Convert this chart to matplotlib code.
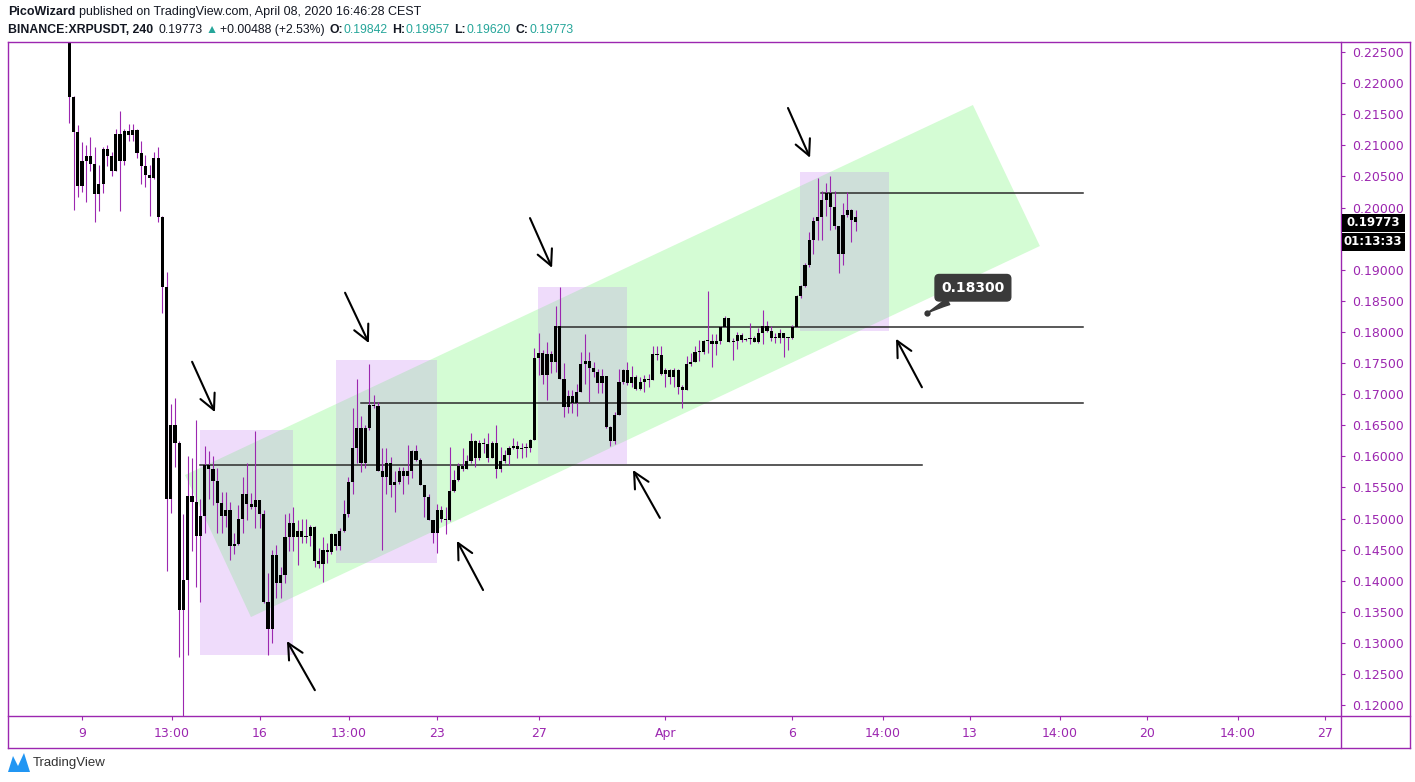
import matplotlib
matplotlib.use('Agg')
import matplotlib.pyplot as plt
from matplotlib.lines import Line2D
from matplotlib.patches import Polygon, Rectangle
import numpy as np

W, H = 1415, 782

# 4h candles, BINANCE:XRPUSDT, first one opens 8 Mar 2020 12:00 (x = day of March)
FIRST_CANDLE = 8.5
STEP = 1 / 6

opens = [
    0.2300, 0.2178, 0.2122, 0.2035, 0.2075, 0.2083, 0.2070, 0.2021, 0.2038, 0.2094,
    0.2083, 0.2059, 0.2118, 0.2075, 0.2123, 0.2116, 0.2125, 0.2087, 0.2066, 0.2053,
    0.2048, 0.2080, 0.1985, 0.1873, 0.1532, 0.1651, 0.1621, 0.1353, 0.1401, 0.1536,
    0.1527, 0.1472, 0.1504, 0.1586, 0.1580, 0.1561, 0.1525, 0.1504, 0.1514, 0.1456,
    0.1459, 0.1499, 0.1539, 0.1524, 0.1519, 0.1530, 0.1508, 0.1365, 0.1322, 0.1441,
    0.1396, 0.1409, 0.1470, 0.1492, 0.1470, 0.1480, 0.1470, 0.1472, 0.1487, 0.1432,
    0.1427, 0.1449, 0.1446, 0.1475, 0.1456, 0.1480, 0.1507, 0.1558, 0.1614, 0.1645,
    0.1590, 0.1645, 0.1683, 0.1681, 0.1577, 0.1567, 0.1589, 0.1554, 0.1559, 0.1576,
    0.1568, 0.1577, 0.1609, 0.1594, 0.1554, 0.1534, 0.1497, 0.1476, 0.1513, 0.1500,
    0.1498, 0.1545, 0.1562, 0.1584, 0.1579, 0.1592, 0.1624, 0.1597, 0.1621, 0.1619,
    0.1598, 0.1621, 0.1579, 0.1592, 0.1602, 0.1614, 0.1616, 0.1611, 0.1614, 0.1613,
    0.1627, 0.1758, 0.1766, 0.1731, 0.1764, 0.1751, 0.1809, 0.1725, 0.1680, 0.1697,
    0.1685, 0.1703, 0.1749, 0.1753, 0.1742, 0.1735, 0.1718, 0.1729, 0.1647, 0.1625,
    0.1666, 0.1719, 0.1738, 0.1718, 0.1727, 0.1708, 0.1720, 0.1724, 0.1723, 0.1764,
    0.1763, 0.1732, 0.1738, 0.1727, 0.1738, 0.1711, 0.1706, 0.1748, 0.1752, 0.1767,
    0.1768, 0.1785, 0.1785, 0.1780, 0.1785, 0.1808, 0.1822, 0.1784, 0.1786, 0.1795,
    0.1787, 0.1789, 0.1790, 0.1784, 0.1799, 0.1810, 0.1802, 0.1790, 0.1791, 0.1799,
    0.1791, 0.1790, 0.1808, 0.1857, 0.1874, 0.1908, 0.1948, 0.1978, 0.1985, 0.2012,
    0.2023, 0.2001, 0.1970, 0.1925, 0.1988, 0.1996, 0.1984,
]
highs = [
    0.2310, 0.2180, 0.2133, 0.2106, 0.2100, 0.2113, 0.2097, 0.2068, 0.2098, 0.2100,
    0.2089, 0.2126, 0.2155, 0.2126, 0.2135, 0.2135, 0.2127, 0.2107, 0.2084, 0.2068,
    0.2089, 0.2097, 0.1986, 0.1897, 0.1684, 0.1693, 0.1625, 0.1507, 0.1600, 0.1597,
    0.1659, 0.1532, 0.1617, 0.1609, 0.1600, 0.1581, 0.1542, 0.1542, 0.1527, 0.1477,
    0.1522, 0.1567, 0.1589, 0.1541, 0.1641, 0.1530, 0.1514, 0.1413, 0.1449, 0.1457,
    0.1422, 0.1508, 0.1509, 0.1519, 0.1498, 0.1500, 0.1500, 0.1489, 0.1488, 0.1452,
    0.1471, 0.1460, 0.1476, 0.1475, 0.1484, 0.1529, 0.1567, 0.1677, 0.1724, 0.1665,
    0.1651, 0.1748, 0.1698, 0.1688, 0.1613, 0.1613, 0.1599, 0.1576, 0.1583, 0.1583,
    0.1618, 0.1610, 0.1618, 0.1597, 0.1554, 0.1540, 0.1497, 0.1524, 0.1520, 0.1519,
    0.1615, 0.1578, 0.1589, 0.1613, 0.1602, 0.1637, 0.1626, 0.1626, 0.1630, 0.1637,
    0.1624, 0.1650, 0.1615, 0.1610, 0.1616, 0.1629, 0.1624, 0.1621, 0.1621, 0.1628,
    0.1774, 0.1799, 0.1771, 0.1784, 0.1770, 0.1842, 0.1872, 0.1750, 0.1706, 0.1706,
    0.1716, 0.1768, 0.1797, 0.1767, 0.1751, 0.1740, 0.1740, 0.1729, 0.1648, 0.1672,
    0.1740, 0.1740, 0.1752, 0.1745, 0.1731, 0.1728, 0.1731, 0.1733, 0.1777, 0.1777,
    0.1777, 0.1742, 0.1740, 0.1742, 0.1740, 0.1715, 0.1761, 0.1766, 0.1777, 0.1787,
    0.1787, 0.1865, 0.1797, 0.1796, 0.1809, 0.1825, 0.1822, 0.1791, 0.1800, 0.1798,
    0.1791, 0.1815, 0.1793, 0.1806, 0.1835, 0.1817, 0.1809, 0.1799, 0.1804, 0.1799,
    0.1792, 0.1811, 0.1860, 0.1876, 0.1911, 0.1961, 0.1985, 0.2047, 0.2026, 0.2040,
    0.2051, 0.2026, 0.1970, 0.2008, 0.2025, 0.1998, 0.1996,
]
lows = [
    0.2136, 0.1996, 0.2017, 0.2025, 0.2009, 0.2059, 0.1976, 0.1995, 0.2024, 0.2066,
    0.2050, 0.2058, 0.1995, 0.2068, 0.2107, 0.2107, 0.2079, 0.2038, 0.2033, 0.1987,
    0.2046, 0.1977, 0.1831, 0.1416, 0.1509, 0.1583, 0.1278, 0.1140, 0.1281, 0.1448,
    0.1390, 0.1365, 0.1477, 0.1532, 0.1522, 0.1477, 0.1477, 0.1487, 0.1433, 0.1443,
    0.1458, 0.1477, 0.1498, 0.1516, 0.1484, 0.1484, 0.1364, 0.1280, 0.1300, 0.1372,
    0.1372, 0.1396, 0.1448, 0.1447, 0.1425, 0.1460, 0.1461, 0.1456, 0.1422, 0.1420,
    0.1398, 0.1428, 0.1443, 0.1449, 0.1449, 0.1478, 0.1502, 0.1540, 0.1589, 0.1574,
    0.1581, 0.1643, 0.1678, 0.1577, 0.1449, 0.1540, 0.1534, 0.1511, 0.1555, 0.1540,
    0.1555, 0.1565, 0.1592, 0.1554, 0.1503, 0.1497, 0.1460, 0.1445, 0.1495, 0.1475,
    0.1496, 0.1543, 0.1560, 0.1576, 0.1579, 0.1590, 0.1583, 0.1594, 0.1605, 0.1591,
    0.1598, 0.1565, 0.1574, 0.1590, 0.1586, 0.1612, 0.1597, 0.1597, 0.1599, 0.1607,
    0.1626, 0.1731, 0.1717, 0.1691, 0.1734, 0.1736, 0.1725, 0.1663, 0.1670, 0.1670,
    0.1665, 0.1703, 0.1717, 0.1688, 0.1727, 0.1702, 0.1702, 0.1645, 0.1616, 0.1620,
    0.1666, 0.1717, 0.1714, 0.1712, 0.1707, 0.1707, 0.1704, 0.1712, 0.1723, 0.1755,
    0.1730, 0.1711, 0.1716, 0.1712, 0.1700, 0.1677, 0.1706, 0.1745, 0.1752, 0.1753,
    0.1765, 0.1766, 0.1744, 0.1763, 0.1780, 0.1808, 0.1784, 0.1755, 0.1773, 0.1783,
    0.1785, 0.1780, 0.1783, 0.1782, 0.1780, 0.1800, 0.1785, 0.1782, 0.1782, 0.1760,
    0.1771, 0.1789, 0.1808, 0.1854, 0.1873, 0.1905, 0.1926, 0.1948, 0.1948, 0.1987,
    0.1964, 0.1965, 0.1895, 0.1907, 0.1984, 0.1945, 0.1962,
]
closes = [
    0.2178, 0.2122, 0.2035, 0.2075, 0.2083, 0.2070, 0.2021, 0.2038, 0.2094, 0.2083,
    0.2059, 0.2118, 0.2075, 0.2123, 0.2116, 0.2125, 0.2087, 0.2066, 0.2053, 0.2048,
    0.2080, 0.1985, 0.1873, 0.1532, 0.1651, 0.1621, 0.1353, 0.1401, 0.1536, 0.1527,
    0.1472, 0.1504, 0.1586, 0.1580, 0.1561, 0.1525, 0.1504, 0.1514, 0.1456, 0.1459,
    0.1499, 0.1539, 0.1524, 0.1519, 0.1530, 0.1508, 0.1365, 0.1322, 0.1441, 0.1396,
    0.1409, 0.1470, 0.1492, 0.1470, 0.1480, 0.1470, 0.1472, 0.1487, 0.1432, 0.1427,
    0.1449, 0.1446, 0.1475, 0.1456, 0.1480, 0.1507, 0.1558, 0.1614, 0.1645, 0.1590,
    0.1645, 0.1683, 0.1681, 0.1577, 0.1567, 0.1589, 0.1554, 0.1559, 0.1576, 0.1568,
    0.1577, 0.1609, 0.1594, 0.1554, 0.1534, 0.1497, 0.1476, 0.1513, 0.1500, 0.1498,
    0.1545, 0.1562, 0.1584, 0.1579, 0.1592, 0.1624, 0.1597, 0.1621, 0.1619, 0.1598,
    0.1621, 0.1579, 0.1592, 0.1602, 0.1614, 0.1616, 0.1611, 0.1614, 0.1613, 0.1627,
    0.1758, 0.1766, 0.1731, 0.1764, 0.1751, 0.1809, 0.1725, 0.1680, 0.1697, 0.1685,
    0.1703, 0.1749, 0.1753, 0.1742, 0.1735, 0.1718, 0.1729, 0.1647, 0.1625, 0.1666,
    0.1719, 0.1738, 0.1718, 0.1727, 0.1708, 0.1720, 0.1724, 0.1723, 0.1764, 0.1763,
    0.1732, 0.1738, 0.1727, 0.1738, 0.1711, 0.1706, 0.1748, 0.1752, 0.1767, 0.1768,
    0.1785, 0.1785, 0.1780, 0.1785, 0.1808, 0.1822, 0.1784, 0.1786, 0.1795, 0.1787,
    0.1789, 0.1790, 0.1784, 0.1799, 0.1810, 0.1802, 0.1790, 0.1791, 0.1799, 0.1791,
    0.1790, 0.1808, 0.1857, 0.1874, 0.1908, 0.1948, 0.1978, 0.1985, 0.2012, 0.2023,
    0.2001, 0.1970, 0.1925, 0.1988, 0.1996, 0.1980, 0.1977,
]

# drawings on the chart, anchored in (day of March, price)
channel = [(13.06, 0.15699), (15.66, 0.13416), (46.76, 0.19381), (44.12, 0.21648)]
boxes = [(13.65, 17.32, 0.12805, 0.16423), (19.01, 22.99, 0.14285, 0.17548),
         (26.97, 30.48, 0.15876, 0.18722), (37.30, 40.81, 0.18014, 0.20571)]
levels = [(13.65, 42.11, 0.1586), (20.00, 48.46, 0.1686),
          (27.76, 48.46, 0.1808), (38.13, 48.46, 0.2024)]
arrows = [  # (tail, head)
    ((13.34, 0.1752), (14.24, 0.1671)), ((19.37, 0.1863), (20.31, 0.1782)),
    ((26.66, 0.1983), (27.53, 0.1903)), ((36.83, 0.2160), (37.70, 0.2080)),
    ((18.18, 0.1224), (17.08, 0.1303)), ((24.81, 0.1385), (23.78, 0.1464)),
    ((31.78, 0.1501), (30.72, 0.1578)), ((42.11, 0.1711), (41.09, 0.1789)),
]
callout_point = (42.30, 0.1830)
callout_text_pos = (44.12, 0.1871)
callout_label = '0.18300'

x_ticks = [9, 12.54, 16, 19.52, 23, 27, 32, 37, 40.56, 44, 47.54, 51, 54.56, 58]
x_labels = ['9', '13:00', '16', '13:00', '23', '27', 'Apr', '6', '14:00', '13',
            '14:00', '20', '14:00', '27']
y_ticks = np.arange(0.120, 0.2251, 0.005)
last_price = 0.19773
countdown = '01:13:33'

PURPLE = '#9c27b0'
WICK = '#9c27b0'
GREEN = '#d4fcd4'
BOX = '#efdcfb'
OVERLAP = '#cedfd9'
TEAL = '#26a69a'
TEXT = '#131722'

fig = plt.figure(figsize=(W / 100, H / 100), dpi=100)
fig.patch.set_facecolor('white')


def fx(px):
    return px / W


def fy(py):
    return 1 - py / H


ax = fig.add_axes([fx(8), fy(716), fx(1341) - fx(8), fy(42) - fy(716)])
ax.set_xlim(6.083, 58.63)
ax.set_ylim(0.11825, 0.22661)
for s in ax.spines.values():
    s.set_visible(False)

# channel + boxes (overlap tinted by clipping a copy of each box to the channel)
chan = Polygon(channel, closed=True, fc=GREEN, ec='none', zorder=1)
ax.add_patch(chan)
for t0, t1, p0, p1 in boxes:
    ax.add_patch(Rectangle((t0, p0), t1 - t0, p1 - p0, fc=BOX, ec='none', zorder=1.5))
    ov = Rectangle((t0, p0), t1 - t0, p1 - p0, fc=OVERLAP, ec='none', zorder=1.6)
    ax.add_patch(ov)
    ov.set_clip_path(chan)

for t0, t1, p in levels:
    ax.plot([t0, t1], [p, p], color='#2b2b2b', lw=1.1, zorder=2)

# candles
t = [FIRST_CANDLE + i * STEP for i in range(len(opens))]
ax.vlines(t, lows, highs, color=WICK, lw=0.8, zorder=3)
body_lo = [min(o, c) for o, c in zip(opens, closes)]
body_h = [max(abs(c - o), 0.00018) for o, c in zip(opens, closes)]
ax.bar(t, body_h, bottom=body_lo, width=0.125, color='black', lw=0, zorder=4)

for tail, head in arrows:
    ax.annotate('', xy=head, xytext=tail, zorder=5,
                arrowprops=dict(arrowstyle='->,head_length=0.8,head_width=0.4',
                                color='black', lw=1.5, shrinkA=0, shrinkB=0,
                                mutation_scale=14))

ax.plot(*callout_point, marker='o', ms=3.5, color='#333333', zorder=6)
ax.annotate(callout_label, xy=callout_point, xytext=callout_text_pos,
            ha='center', va='center', color='white', fontsize=10, fontweight='bold',
            bbox=dict(boxstyle='round,pad=0.45,rounding_size=0.3', fc='#3a3a3a', ec='#3a3a3a'),
            arrowprops=dict(arrowstyle='wedge,tail_width=0.5,shrink_factor=0.4',
                            fc='#3a3a3a', ec='#3a3a3a', shrinkA=0, shrinkB=0),
            zorder=6)

# axes ticks; the label under the countdown tag is hidden, as on the chart
ax.yaxis.tick_right()
ax.set_yticks(y_ticks)
ax.set_yticklabels(['' if abs(v - 0.195) < 1e-6 else f'{v:.5f}' for v in y_ticks])
ax.set_xticks(x_ticks)
ax.set_xticklabels(x_labels)
ax.tick_params(axis='both', colors=PURPLE, length=3, width=0.8, pad=5, labelsize=9)

# frame lines
for x0, y0, x1, y1 in [(8, 42, 1410, 42), (8, 716, 1410, 716), (8, 748, 1410, 748),
                       (8, 42, 8, 748), (1341, 42, 1341, 748), (1410, 42, 1410, 748)]:
    fig.add_artist(Line2D([fx(x0), fx(x1)], [fy(y0), fy(y1)], color=PURPLE, lw=1.0))

# last price and countdown tags on the price scale
ytag = 52 + (0.225 - last_price) * 6220
for text, yc in [(f'{last_price:.5f}', ytag + 1), (countdown, ytag + 20)]:
    fig.add_artist(Rectangle((fx(1342), fy(yc + 9)), fx(1405) - fx(1342), fy(yc - 9) - fy(yc + 9),
                             fc='black', ec='none', transform=fig.transFigure, zorder=10))
    fig.text(fx(1373), fy(yc), text, color='white', fontsize=8.5, fontweight='bold',
             ha='center', va='center', zorder=11)

# header, laid out run by run
HF = ['Liberation Sans', 'DejaVu Sans']
renderer = fig.canvas.get_renderer()


def header_line(y, runs, size=9):
    x = 8
    for text, col, wt, gap in runs:
        tx = fig.text(fx(x), fy(y), text, fontsize=size, fontweight=wt, color=col,
                      va='center', family=HF)
        x += tx.get_window_extent(renderer).width + gap


header_line(12, [('PicoWizard', TEXT, 'bold', 4),
                 ('published on TradingView.com, April 08, 2020 16:46:28 CEST', TEXT, 'normal', 0)])
header_line(30, [('BINANCE:XRPUSDT, 240', TEXT, 'bold', 5), ('0.19773', TEXT, 'normal', 3),
                 ('▲', TEAL, 'normal', 3), ('+0.00488 (+2.53%)', TEXT, 'normal', 4),
                 ('O:', TEXT, 'bold', 1), ('0.19842', TEAL, 'normal', 4),
                 ('H:', TEXT, 'bold', 1), ('0.19957', TEAL, 'normal', 4),
                 ('L:', TEXT, 'bold', 1), ('0.19620', TEAL, 'normal', 4),
                 ('C:', TEXT, 'bold', 1), ('0.19773', TEAL, 'normal', 0)], size=8.8)

# TradingView logo
fig.add_artist(Polygon([(fx(8), fy(772)), (fx(13), fy(756)), (fx(18), fy(766)),
                        (fx(24), fy(753)), (fx(30), fy(772))], closed=True,
                       fc='#2196f3', ec='none', transform=fig.transFigure))
fig.text(fx(33), fy(763), 'TradingView', fontsize=9.5, color='#333333', va='center', family=HF)

fig.savefig('out.png', dpi=100)
